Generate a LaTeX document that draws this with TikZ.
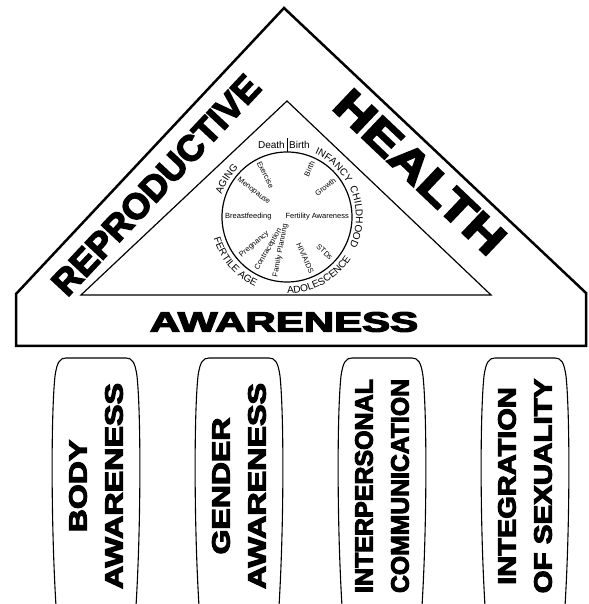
\documentclass[tikz,border=0pt]{standalone}
\usepackage{fontspec}
\setmainfont{Liberation Sans}
\newfontfamily\heavyfont{Liberation Sans Bold}[FakeBold=4]
\usetikzlibrary{calc,decorations.text}
\newcommand\ringfont{\fontsize{10}{10}\selectfont}
\newcommand\spokefont{\fontsize{7.5}{7.5}\selectfont}

\begin{document}
\begin{tikzpicture}[x=1pt,y=1pt,
  outline/.style={line width=2.5pt,line join=miter},
  innerline/.style={line width=1.2pt,line join=miter},
  spoke/.style={font=\spokefont,inner sep=0pt},
  ringlabel/.style={decorate,decoration={text along path,text align=center,text={|\ringfont|#1}}},
  bigword/.style={font=\heavyfont\fontsize{#1}{#1}\selectfont,inner sep=0pt},
  pillline/.style={line width=1.1pt},
  pillword/.style={font=\heavyfont\fontsize{25}{25}\selectfont,inner sep=0pt,rotate=90},
]
\useasboundingbox (0,0) rectangle (588,604);

% house-shaped frame
\draw[outline] (16,258) -- (16,310) -- (284,596) -- (586,311) -- (586,258) -- cycle;

% inner triangle
\draw[innerline] (81,309) -- (287,503) -- (491,309) -- cycle;

% life-cycle wheel
\coordinate (c) at (287,387);
\draw[innerline] (c) circle[radius=65];
\draw[line width=0.8pt] (287,452) -- (287,466);
\node[anchor=base east,font=\fontsize{10}{10}\selectfont,inner sep=0pt] (death) at (285,455) {Death};
\node[anchor=base west,font=\fontsize{10}{10}\selectfont,inner sep=0pt] (birth) at (289,455) {Birth};

% spokes, right half read outwards
\path (c) ++(0:62)  node[spoke,anchor=east] (fert) {Fertility Awareness};
\path (c) ++(38:61) node[spoke,anchor=east,rotate=38] (growth) {Growth};
\path (c) ++(65:61) node[spoke,anchor=east,rotate=65] (birthsp) {Birth};
\path (c) ++(-66:61) node[spoke,anchor=east,rotate=-66] (hiv) {HIV/AIDS};
\path (c) ++(-43:61) node[spoke,anchor=east,rotate=-43] (std) {STDs};
% spokes, left half read inwards
\path (c) ++(117:62) node[spoke,anchor=west,rotate=-63] (exer) {Exercise};
\path (c) ++(142:62) node[spoke,anchor=west,rotate=-38] (meno) {Menopause};
\path (c) ++(180:62) node[spoke,anchor=west] (breast) {Breastfeeding};
\path (c) ++(220:61) node[spoke,anchor=west,rotate=40] (preg) {Pregnancy};
\path (c) ++(240:61) node[spoke,anchor=west,rotate=60] (contra) {Contraception};
\path (c) ++(259:61) node[spoke,anchor=west,rotate=79] (famplan) {Family Planning};

% life stages around the wheel
\path[ringlabel=AGING] ($(c)+(165:69)$) arc[start angle=165,end angle=131,radius=69];
\path[ringlabel=INFANCY] ($(c)+(68:69)$) arc[start angle=68,end angle=28,radius=69];
\path[ringlabel=CHILDHOOD] ($(c)+(24:69)$) arc[start angle=24,end angle=-24,radius=69];
\path[ringlabel=ADOLESCENCE] ($(c)+(-98:76.5)$) arc[start angle=-98,end angle=-25,radius=76.5];
\path[ringlabel=FERTILE AGE] ($(c)+(185:76.5)$) arc[start angle=185,end angle=257,radius=76.5];

% roof and base words
\node[bigword=36,rotate=46.9] (repro) at (156,419) {REPRODUCTIVE};
\node[bigword=44,rotate=-43.5] (health) at (420,432) {\scalebox{1.24}[1]{HEALTH}};
\node[bigword=28] (aware) at (284,282) {\scalebox{1.5}[1]{AWARENESS}};

% pillars
\foreach \cx/\nm/\la/\sa/\lb/\sb in {96/body/BODY/1.28/AWARENESS/1.29,
    239/gender/GENDER/1.28/AWARENESS/1.29,
    382/inter/INTERPERSONAL/1.0/COMMUNICATION/0.99,
    525/integ/INTEGRATION/1.16/OF SEXUALITY/1.18}
{
  \draw[pillline] (\cx-40,-2) .. controls (\cx-45,80) and (\cx-45,190) .. (\cx-41,228)
     .. controls (\cx-39,242) and (\cx-36,246) .. (\cx-30,246) -- (\cx+30,246)
     .. controls (\cx+36,246) and (\cx+39,242) .. (\cx+41,228)
     .. controls (\cx+45,190) and (\cx+45,80) .. (\cx+40,-2);
  \node[pillword] (\nm a) at (\cx-18,118) {\scalebox{\sa}[1]{\la}};
  \node[pillword] (\nm b) at (\cx+18,118) {\scalebox{\sb}[1]{\lb}};
}
\end{tikzpicture}
\end{document}
